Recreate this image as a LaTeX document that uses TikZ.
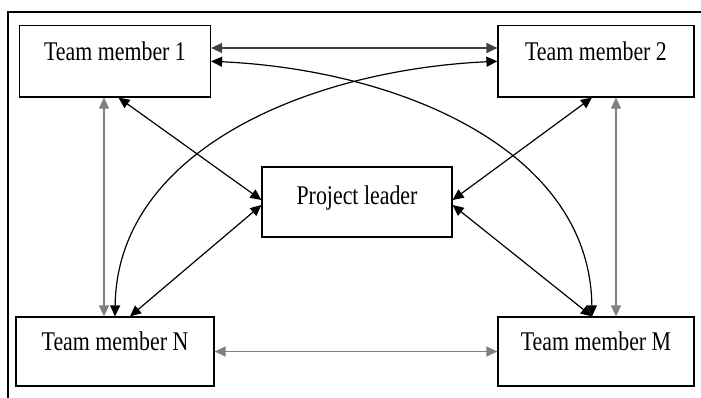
\documentclass[tikz,border=0pt]{standalone}
\usepackage{fontspec}
\setmainfont{Liberation Serif}
\usetikzlibrary{arrows.meta}
\tikzset{
  box/.style={draw, line width=1.2pt, rectangle, minimum width=#1, inner sep=0pt},
  lbl/.style={anchor=base, inner sep=0pt, font=\fontsize{27}{30}\selectfont},
  link/.style={line width=1.2pt, {Triangle[length=11pt,width=10pt]}-{Triangle[length=11pt,width=10pt]}},
  greylink/.style={link, draw=black!50},
  darklink/.style={link, draw=black!75},
  frame/.style={line width=2pt},
}
\newcommand{\nar}[1]{\scalebox{0.81}[1]{#1}}
\begin{document}
\begin{tikzpicture}[x=1pt,y=-1pt]
  \useasboundingbox (0,0) rectangle (701,398);
  % open frame: top and left edges only
  \coordinate (ftr) at (701,12);
  \coordinate (ftl) at (8,12);
  \coordinate (fbl) at (8,398);
  \draw[frame] (ftr) -- (ftl) -- (fbl);

  % boxes
  \node[box=191pt, minimum height=71.5pt] (tm1) at (115,61.25) {};
  \node[box=196pt, minimum height=71.5pt] (tm2) at (596,61.25) {};
  \node[box=190pt, minimum height=70pt]   (pl)  at (357,202) {};
  \node[box=198pt, minimum height=69pt]   (tmn) at (115,351.5) {};
  \node[box=196pt, minimum height=69pt]   (tmm) at (596,351.5) {};

  % labels
  \node[lbl] (t1) at ([yshift=-36pt]tm1.north) {\nar{Team member 1}};
  \node[lbl] (t2) at ([yshift=-36pt]tm2.north) {\nar{Team member 2}};
  \node[lbl] (tp) at ([yshift=-38pt]pl.north)  {\nar{Project leader}};
  \node[lbl] (tn) at ([yshift=-34.5pt]tmn.north) {\nar{Team member N}};
  \node[lbl] (tm) at ([yshift=-34.5pt]tmm.north) {\nar{Team member M}};

  % straight links between members
  \draw[darklink] ([yshift=13.25pt]tm1.east) -- ([yshift=13.25pt]tm2.west);
  \draw[greylink] ([xshift=-11pt]tm1.south) -- ([xshift=-11pt]tmn.north);
  \draw[greylink] ([xshift=20pt]tm2.south) -- ([xshift=20pt]tmm.north);
  \draw[greylink] (tmn.east) -- (tmm.west);

  % links to the project leader
  \draw[link] ([xshift=3.5pt]tm1.south) -- ([yshift=2pt]pl.west);
  \draw[link] ([xshift=15pt]tmn.north) -- ([yshift=-3pt]pl.west);
  \draw[link] ([xshift=-4pt]tm2.south) -- ([yshift=2pt]pl.east);
  \draw[link] ([xshift=-4pt]tmm.north) -- ([yshift=-3pt]pl.east);

  % crossing curved links
  \draw[link] (tm1.east) .. controls (400,70) and (590,150) .. ([xshift=-4pt]tmm.north);
  \draw[link] (tm2.west) .. controls (309,70) and (117,150) .. (tmn.north);
\end{tikzpicture}
\end{document}
